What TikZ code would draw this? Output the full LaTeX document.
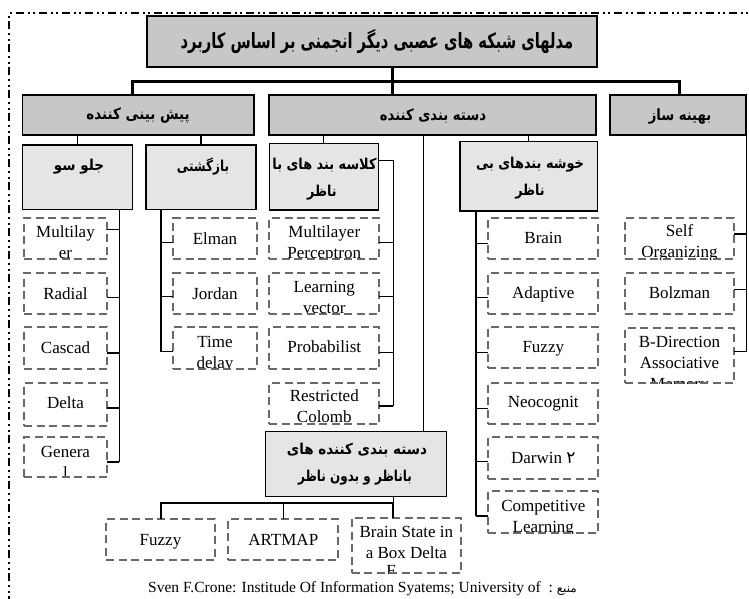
\documentclass[tikz,border=0pt]{standalone}
\usepackage{graphicx}
\usepackage{fontspec}
\setmainfont{Liberation Serif}
\newfontfamily\fa[Script=Arabic]{DejaVu Sans}
\TeXXeTstate=1
\usetikzlibrary{calc}
\newcommand{\FAs}[2]{\scalebox{#1}[1]{{\fa #2}}}
\definecolor{gdark}{RGB}{199,199,199}
\definecolor{glight}{RGB}{229,229,229}
\definecolor{dgray}{RGB}{105,105,105}
\tikzset{
  frameline/.style={line width=1.8pt, dash pattern=on 8pt off 4pt on 2pt off 3.5pt on 2pt off 3.5pt},
  gbox/.style={draw=black, line width=1.3pt, inner sep=0pt, outer sep=0pt, anchor=north west},
  dbox/.style={draw=dgray, line width=1.8pt, dash pattern=on 8pt off 4.5pt, inner sep=0pt, outer sep=0pt},
  dtext/.style={font=\fontsize{17}{21}\selectfont, align=center, inner sep=0pt, text=black},
  ptext/.style={font=\fa\bfseries\fontsize{15.5}{18}\selectfont, inner sep=0pt},
  p3text/.style={font=\fa\bfseries\fontsize{15}{18}\selectfont, inner sep=0pt},
  conn/.style={line width=1.3pt, black},
  bus/.style={line width=2.6pt, black, line join=miter},
}
\newcommand{\dbx}[7]{%
  \begin{scope}
    \clip (#2,#3) rectangle (#4,#5);
    \node[dtext, anchor=north] (#1t) at ({(#2+#4)/2},{#6-14.7}) {#7};
  \end{scope}
  \node[dbox, anchor=north west, minimum width={#4-#2}, minimum height={#5-#3}] (#1) at (#2,#3) {};}
\newcommand{\gbx}[6]{%
  \node[gbox, fill=#6, minimum width={#4-#2}, minimum height={#5-#3}] (#1) at (#2,#3) {};}
\begin{document}
\begin{tikzpicture}[x=1pt,y=-1pt]
\useasboundingbox (0,0) rectangle (749,599);
% frame
\draw[frameline] (760,13.3) -- (9,13.3) -- (9,610);

% title and level 2
\gbx{title}{147}{16}{597}{67}{gdark}
\node[ptext, font=\fa\bfseries\fontsize{21}{24}\selectfont] (titlet) at (377,42) {\FAs{0.70}{\beginR مدلهای شبکه های عصبی دیگر انجمنی بر اساس کاربرد\endR}};
\gbx{pish}{22.7}{95}{254}{135}{gdark}
\node[ptext] (pisht) at (138,116) {\FAs{0.87}{\beginR پیش بینی کننده\endR}};
\gbx{dasteh}{269}{95}{596}{135}{gdark}
\node[ptext] (dastehT) at (433,116) {\FAs{0.85}{\beginR دسته بندی کننده\endR}};
\gbx{behine}{610}{95}{746}{135}{gdark}
\node[ptext] (behinet) at (680,117) {\FAs{0.85}{\beginR بهینه ساز\endR}};

% level 3
\gbx{jelo}{22.7}{145}{132.7}{209.3}{glight}
\node[p3text] (jelot) at (79,167) {\FAs{0.9}{\beginR جلو سو\endR}};
\gbx{baz}{146}{145}{256}{209.3}{glight}
\node[p3text] (bazt) at (203,167) {\FAs{0.8}{\beginR بازگشتی\endR}};
\gbx{kelas}{269.3}{143.3}{378.3}{210}{glight}
\node[p3text] (kelast) at (324.5,165) {\FAs{0.86}{\beginR کلاسه بند های با\endR}};
\node[p3text] (kelasu) at (322,193) {\FAs{0.85}{\beginR ناظر\endR}};
\gbx{khosh}{460}{141.7}{597.3}{211}{glight}
\node[p3text] (khosht) at (530,165) {\FAs{0.86}{\beginR خوشه بندهای بی\endR}};
\node[p3text] (khoshu) at (530,192) {\FAs{0.85}{\beginR ناظر\endR}};
\gbx{bb}{265.7}{431.7}{446.7}{496.7}{glight}
\node[p3text] (bbt) at (357,450) {\FAs{0.9}{\beginR دسته بندی کننده های\endR}};
\node[p3text] (bbu) at (355,478) {\FAs{0.8}{\beginR باناظر و بدون ناظر\endR}};

% top bus
\coordinate (bA) at (132.7,81.7);
\coordinate (bB) at (392.3,81.7);
\coordinate (bC) at (679.3,81.7);
\draw[bus] (pish.north -| bA) -- (bA) -- (bC) -- (behine.north -| bC);
\draw[bus] (title.south -| bB) -- (dasteh.north -| bB);
% level2 -> level3
\draw[conn] (jelo.north) -- (jelo.north |- pish.south);
\draw[conn] (baz.north) -- (baz.north |- pish.south);
\draw[conn] (kelas.north) -- (kelas.north |- dasteh.south);
\draw[conn] (khosh.north) -- (khosh.north |- dasteh.south);
\coordinate (mid) at (423.3,0);
\draw[conn] (dasteh.south -| mid) -- (bb.north -| mid);

% column A
\dbx{a1}{24}{218}{107}{259}{237}{\strut Multilay\\\strut er}
\dbx{a2}{24}{273}{107}{314}{299.5}{\strut Radial}
\dbx{a3}{24}{327}{107}{369}{353}{\strut Cascad}
\dbx{a4}{24}{383}{107}{426}{408}{\strut Delta}
\dbx{a5}{24}{437}{107}{477}{457.5}{\strut Genera\\\strut l}
\coordinate (cA) at (119.3,0);
\foreach \n/\d in {a1/11.3,a2/24.7,a3/26,a4/25,a5/25}{
  \coordinate (\n r) at ($(\n.north east)+(0,\d)$);
  \draw[conn] (\n r) -- (\n r -| cA);}
\draw[conn] (jelo.south -| cA) -- (a5r -| cA);

% column B
\dbx{b1}{173.3}{218}{256.7}{259}{244}{\strut Elman}
\dbx{b2}{173.3}{273}{256.7}{314}{299}{\strut Jordan}
\dbx{b3}{173.3}{327}{256.7}{369}{347.5}{\strut Time\\\strut delay}
\coordinate (cB) at (161,0);
\foreach \n/\d in {b1/24.7,b2/23.7,b3/24.7}{
  \coordinate (\n l) at ($(\n.north west)+(0,\d)$);
  \draw[conn] (\n l) -- (\n l -| cB);}
\draw[conn] (baz.south -| cB) -- (b3l -| cB);

% column C
\dbx{c1}{269.3}{218}{379.3}{259}{237}{\strut Multilayer\\\strut Perceptron}
\dbx{c2}{269.3}{273}{379.3}{314}{292.5}{\strut Learning\\\strut vector}
\dbx{c3}{269.3}{327}{379.3}{369}{352.5}{\strut Probabilist}
\dbx{c4}{269.3}{383}{379.3}{424}{401}{\strut Restricted\\\strut Colomb}
\coordinate (cC) at (393.3,0);
\foreach \n/\d in {c1/24.7,c2/23.7,c3/25.3,c4/23}{
  \coordinate (\n r) at ($(\n.north east)+(0,\d)$);
  \draw[conn] (\n r) -- (\n r -| cC);}
\coordinate (kout) at ($(kelas.north east)+(0,17.4)$);
\draw[conn] (kout) -| (c4r -| cC);

% column D
\dbx{d1}{488.3}{218}{598.3}{259}{243.5}{\strut Brain}
\dbx{d2}{488.3}{273}{598.3}{314}{298}{\strut Adaptive}
\dbx{d3}{488.3}{327}{598.3}{368}{352.5}{\strut Fuzzy}
\dbx{d4}{488.3}{383}{598.3}{424}{407}{\strut Neocognit}
\dbx{d5}{488.3}{437}{598.3}{479}{463}{\strut Darwin {\fa ۲}}
\dbx{d6}{488.3}{491}{598.3}{533}{511}{\strut Competitive\\\strut Learning}
\coordinate (cD) at (476,0);
\foreach \n/\d in {d1/25.3,d2/24.7,d3/25.3,d4/25.3,d5/24.7,d6/25}{
  \coordinate (\n l) at ($(\n.north west)+(0,\d)$);
  \draw[conn] (\n l) -- (\n l -| cD);}
\draw[conn] (khosh.south -| cD) -- (d6l -| cD);

% column E
\dbx{e1}{625}{218}{734}{259}{236}{\strut Self\\\strut Organizing}
\dbx{e2}{625}{273}{734}{314}{298}{\strut Bolzman}
\dbx{e3}{625}{328}{734}{383}{347}{\strut B-Direction\\\strut Associative\\\strut Memory}
\coordinate (cE) at (746.7,0);
\foreach \n/\d in {e1/16,e2/16.3,e3/23.7}{
  \coordinate (\n r) at ($(\n.north east)+(0,\d)$);
  \draw[conn] (\n r) -- (\n r -| cE);}
\draw[conn] (behine.south -| cE) -- (e3r -| cE);

% bottom group
\begin{scope}
  \clip (351.7,518) rectangle (461,573);
  \node[dtext, anchor=base] (f3x) at (391,576) {F};
\end{scope}
\dbx{f3}{351.7}{518}{461}{573}{537}{\strut Brain State in\\\strut a Box Delta}
\dbx{f1}{106}{519}{215}{560}{545}{\strut Fuzzy}
\dbx{f2}{228.3}{519}{338.3}{560}{545}{\strut ARTMAP}
\coordinate (fb) at (393.3,503.3);
\draw[conn] (bb.south -| fb) -- (fb);
\draw[conn, line width=2pt] (f1.north) |- (fb) -- (f3.north -| fb);
\draw[conn] (f2.north) -- (f2.north |- fb);

% source
\node[anchor=base west, inner sep=0pt, font=\fontsize{15.5}{18}\selectfont] (src) at (148,592)
  {Sven F.Crone: Institude Of Information Syatems; University of\ \ :\ {\fa\fontsize{12}{14}\selectfont\beginR منبع\endR}};
\end{tikzpicture}
\end{document}
